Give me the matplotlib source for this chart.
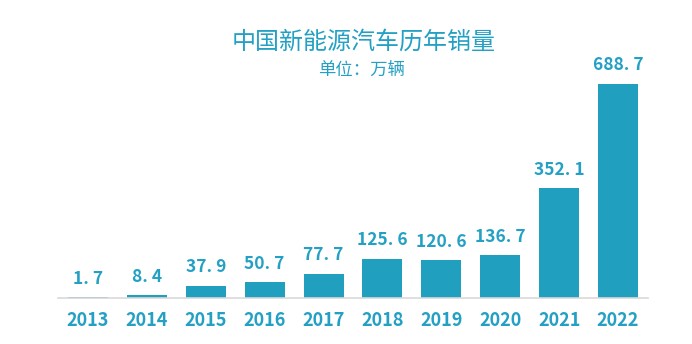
import matplotlib.pyplot as plt

plt.rcParams['font.family'] = ['Noto Sans CJK SC', 'DejaVu Sans']

years = ["2013", "2014", "2015", "2016", "2017", "2018", "2019", "2020", "2021", "2022"]
sales = [1.7, 8.4, 37.9, 50.7, 77.7, 125.6, 120.6, 136.7, 352.1, 688.7]

bar_color = '#219fbe'
text_color = '#24a0c4'

fig = plt.figure(figsize=(6.92, 3.44), dpi=100)
# axes: left 58px, right 648px, bottom at y=298 (from top), top at y=70
ax = fig.add_axes([58 / 692, (344 - 298) / 344, 590 / 692, 228 / 344])

x = range(len(years))
bars = ax.bar(x, sales, width=0.68, color=bar_color)
ax.set_xlim(-0.51, 9.51)
ax.set_ylim(0, 733)

for b, v in zip(bars, sales):
    ax.annotate(f"{v}".replace('.', '. '), (b.get_x() + b.get_width() / 2, v),
                xytext=(0, 7), textcoords='offset points',
                ha='center', va='bottom', fontsize=12.5, fontweight='bold',
                color=text_color)

ax.set_xticks(list(x))
ax.set_xticklabels(years, fontsize=13, fontweight='bold', color=text_color)
ax.tick_params(axis='x', length=0, pad=9)
ax.set_yticks([])
for s in ['top', 'left', 'right']:
    ax.spines[s].set_visible(False)
ax.spines['bottom'].set_color('#d9d9d9')
ax.spines['bottom'].set_linewidth(1.2)

fig.text(364 / 692, 1 - 42 / 344, "中国新能源汽车历年销量", ha='center', va='center',
         fontsize=17.3, color=text_color)
fig.text(361 / 692, 1 - 70 / 344, "单位：万辆", ha='center', va='center',
         fontsize=12.5, color=text_color)

fig.savefig('out.png', dpi=100)
